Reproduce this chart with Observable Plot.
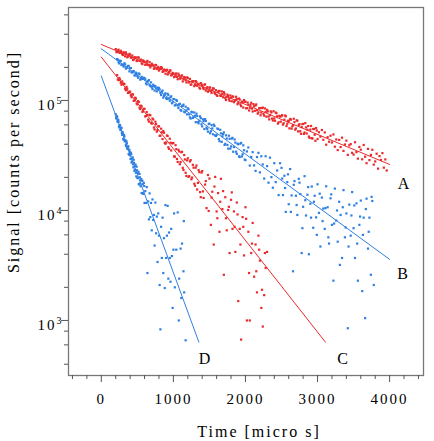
<!DOCTYPE html>
<html>
<head>
<meta charset="utf-8">
<script src="https://cdn.jsdelivr.net/npm/d3@7"></script>
<script src="https://cdn.jsdelivr.net/npm/@observablehq/plot@0.6"></script>
<style>
  body { margin: 0; background: #fff; }
</style>
</head>
<body>
<div id="chart"></div>
<script>
// Decay curves A–D: measured signal (counts per second) against time (micro s)

// Curve A (red)
const timeA = [200,220,240,260,280,300,320,340,360,380,400,420,440,460,480,500,520,540,560,580,
  600,620,640,660,680,700,720,740,760,780,800,820,840,860,880,900,920,940,960,980,
  1000,1020,1040,1060,1080,1100,1120,1140,1160,1180,1200,1220,1240,1260,1280,1300,1320,1340,1360,1380,
  1400,1420,1440,1460,1480,1500,1520,1540,1560,1580,1600,1620,1640,1660,1680,1700,1720,1740,1760,1780,
  1800,1820,1840,1860,1880,1900,1920,1940,1960,1980,2000,2020,2040,2060,2080,2100,2120,2140,2160,2180,
  2200,2220,2240,2260,2280,2300,2320,2340,2360,2380,2400,2420,2440,2460,2480,2500,2520,2540,2560,2580,
  2600,2620,2640,2660,2680,2700,2720,2740,2760,2780,2800,2820,2840,2860,2880,2900,2920,2940,2960,2980,
  3000,3020,3040,3060,3080,3100,3120,3140,3160,3180,3200,3220,3240,3260,3280,3300,3320,3340,3360,3380,
  3400,3420,3440,3460,3480,3500,3520,3540,3560,3580,3600,3620,3640,3660,3680,3700,3720,3740,3760,3780,
  3800,3820,3840,3860,3880,3900,3920,3940,3960,
  210,230,250,270,290,310,330,350,370,390,410,430,450,470,490,510,530,550,570,590,
  610,630,650,670,690,710,730,750,770,790,810,830,850,870,890,910,930,950,970,990,
  1010,1030,1050,1070,1090,1110,1130,1150,1170,1190,1210,1230,1250,1270,1290,1310,1330,1350,1370,1390,
  1410,1430,1450,1470,1490,1510,1530,1550,1570,1590,1610,1630,1650,1670,1690,1710,1730,1750,1770,1790,
  1810,1830,1850,1870,1890,1910,1930,1950,1970,1990,2010,2030,2050,2070,2090,2110,2130,2150,2170,2190,
  2210,2230,2250,2270,2290,2310,2330,2350,2370,2390,2410,2430,2450,2470,2490,2510,2530,2550,2570,2590,
  2610,2630,2650,2670,2690,2710,2730,2750,2770,2790,2810,2830,2850,2870,2890,2910,2930,2950,2970,2990];
const signalA = [2.93e5,2.76e5,2.89e5,2.71e5,2.76e5, 2.59e5,2.70e5,2.74e5,2.47e5,2.57e5,
  2.61e5,2.46e5,2.33e5,2.47e5,2.46e5, 2.31e5,2.45e5,2.30e5,2.18e5,2.31e5,
  2.24e5,2.12e5,2.29e5,2.09e5,2.00e5, 2.16e5,2.08e5,1.97e5,2.10e5,1.96e5,
  1.87e5,1.97e5,1.98e5,1.84e5,1.88e5, 1.89e5,1.72e5,1.81e5,1.87e5,1.71e5,
  1.76e5,1.65e5,1.76e5,1.56e5,1.69e5, 1.59e5,1.69e5,1.56e5,1.61e5,1.46e5,
  1.60e5,1.47e5,1.39e5,1.49e5,1.50e5, 1.38e5,1.47e5,1.41e5,1.31e5,1.44e5,
  1.37e5,1.27e5,1.40e5,1.28e5,1.20e5, 1.31e5,1.22e5,1.24e5,1.28e5,1.15e5,
  1.12e5,1.20e5,1.22e5,1.10e5,1.15e5, 1.19e5,1.05e5,1.08e5,1.10e5,9.92e4,
  1.06e5,1.09e5,9.65e4,1.01e5,1.03e5, 9.50e4,1.02e5,8.88e4,9.61e4,1.01e5,
  9.74e4,8.53e4,9.14e4,8.58e4,9.53e4, 7.94e4,8.86e4,9.00e4,8.15e4,7.79e4,
  8.52e4,7.77e4,8.62e4,7.27e4,7.87e4, 8.22e4,7.14e4,7.34e4,7.77e4,6.58e4,
  6.86e4,7.77e4,7.18e4,6.33e4,7.14e4, 7.19e4,6.04e4,6.69e4,7.18e4,6.14e4,
  6.50e4,6.79e4,5.54e4,5.96e4,6.36e4, 5.56e4,6.55e4,6.00e4,5.25e4,5.74e4,
  6.12e4,5.11e4,5.69e4,5.41e4,4.70e4, 5.43e4,4.54e4,5.50e4,4.88e4,5.61e4,
  4.46e4,5.14e4,4.69e4,5.39e4,4.39e4, 5.12e4,3.96e4,4.63e4,4.22e4,4.78e4,
  4.15e4,4.91e4,3.80e4,4.42e4,3.54e4, 4.38e4,3.77e4,4.59e4,3.48e4,3.98e4,
  4.31e4,3.20e4,3.91e4,4.01e4,3.34e4, 3.22e4,4.17e4,3.39e4,2.96e4,3.78e4,
  3.57e4,2.92e4,3.94e4,3.08e4,2.69e4, 3.63e4,2.87e4,3.20e4,3.56e4,2.61e4,
  2.79e4,3.28e4,2.40e4,3.12e4,2.88e4, 3.32e4,2.45e4,2.91e4,2.31e4,
  2.75e5,2.85e5,2.73e5,2.83e5,2.64e5, 2.74e5,2.52e5,2.64e5,2.51e5,2.65e5,
  2.45e5,2.56e5,2.36e5,2.43e5,2.28e5, 2.46e5,2.29e5,2.35e5,2.14e5,2.27e5,
  2.11e5,2.24e5,2.10e5,2.23e5,2.07e5, 2.11e5,1.94e5,2.10e5,1.93e5,2.02e5,
  1.92e5,2.01e5,1.82e5,1.91e5,1.75e5, 1.90e5,1.76e5,1.88e5,1.69e5,1.78e5,
  1.63e5,1.74e5,1.64e5,1.75e5,1.58e5, 1.66e5,1.49e5,1.63e5,1.53e5,1.62e5,
  1.46e5,1.57e5,1.40e5,1.50e5,1.35e5, 1.50e5,1.36e5,1.41e5,1.28e5,1.40e5,
  1.31e5,1.39e5,1.23e5,1.32e5,1.23e5, 1.31e5,1.17e5,1.29e5,1.18e5,1.24e5,
  1.10e5,1.21e5,1.11e5,1.21e5,1.07e5, 1.15e5,1.01e5,1.13e5,1.03e5,1.11e5,
  9.84e4,1.08e5,9.90e4,1.08e5,9.25e4, 1.04e5,9.22e4,9.77e4,8.62e4,9.71e4,
  8.49e4,9.57e4,8.11e4,9.14e4,8.43e4, 9.27e4,8.05e4,9.20e4,7.59e4,8.48e4,
  7.33e4,8.52e4,7.54e4,8.46e4,7.13e4, 7.94e4,6.73e4,7.97e4,6.85e4,7.98e4,
  6.54e4,7.65e4,6.16e4,7.25e4,6.42e4, 7.35e4,6.20e4,7.29e4,5.85e4,6.54e4,
  5.58e4,6.69e4,5.81e4,6.82e4,5.43e4, 6.59e4,5.23e4,6.08e4,4.98e4,6.10e4,
  4.97e4,6.22e4,5.01e4,5.85e4,4.57e4, 5.86e4,4.51e4,5.51e4,4.30e4,5.33e4];

// Curve B (blue)
const timeB = [220,240,260,280,300,320,340,360,380,400,420,440,460,480,500,520,540,560,580,
  600,620,640,660,680,700,720,740,760,780,800,820,840,860,880,900,920,940,960,980,
  1000,1020,1040,1060,1080,1100,1120,1140,1160,1180,1200,1220,1240,1260,1280,1300,1320,1340,1360,1380,
  1400,1420,1440,1460,1480,1500,1520,1540,1560,1580,1600,1620,1640,1660,1680,1700,1720,1740,1760,1780,
  1800,1820,1840,1860,1880,1900,1920,1940,1960,1980,2000,2020,2040,2060,2080,2100,2120,2140,2160,2180,
  2200,2220,2240,2260,2280,2300,2320,2340,2360,2380,2400,2420,2440,2460,2480,
  2500,2510,2520,2540,2550,2560,2580,2590,2600,2620,2630,2640,2660,2670,2680,2700,2710,2720,2740,2750,
  2760,2780,2790,2800,2820,2830,2840,2860,2870,2880,2900,2910,2920,2940,2950,2960,2980,2990,3000,3020,
  3030,3040,3060,3070,3080,3100,3110,3120,3140,3150,3160,3180,3190,3200,3220,3230,3240,3260,3270,3280,
  3300,3310,3320,3340,3350,3360,3380,3390,3400,3420,3430,3440,3460,3470,3480,3500,3510,3520,3540,3550,
  3560,3580,3590,3600,3620,3630,3640,3660,3670,3680,3700,3710,3720,3740,3750,3760,3780,
  230,250,270,290,310,330,350,370,390,410,430,450,470,490,510,530,550,570,590,
  610,630,650,670,690,710,730,750,770,790,810,830,850,870,890,910,930,950,970,990,
  1010,1030,1050,1070,1090,1110,1130,1150,1170,1190,1210,1230,1250,1270,1290,1310,1330,1350,1370,1390,
  1410,1430,1450,1470,1490,1510,1530,1550,1570,1590,1610,1630,1650,1670,1690,1710,1730,1750,1770,1790,
  1810,1830,1850,1870,1890,1910,1930,1950,1970,1990];
const signalB = [2.38e5,2.22e5,2.30e5,2.10e5, 2.10e5,2.18e5,1.95e5,2.02e5,2.06e5,
  1.97e5,1.80e5,1.84e5,1.69e5,1.79e5, 1.67e5,1.76e5,1.55e5,1.64e5,1.57e5,
  1.60e5,1.43e5,1.49e5,1.53e5,1.35e5, 1.32e5,1.39e5,1.23e5,1.29e5,1.31e5,
  1.30e5,1.17e5,1.20e5,1.06e5,1.14e5, 1.05e5,1.15e5,1.04e5,1.07e5,9.43e4,
  1.03e5,9.01e4,1.01e5,8.99e4,9.24e4, 8.17e4,8.93e4,9.16e4,7.81e4,8.12e4,
  8.50e4,7.47e4,6.85e4,7.81e4,7.07e4, 7.26e4,7.59e4,6.35e4,6.54e4,6.91e4,
  5.81e4,6.48e4,6.76e4,5.67e4,5.20e4, 6.16e4,5.25e4,5.57e4,6.03e4,4.81e4,
  4.86e4,5.50e4,4.26e4,5.02e4,4.73e4, 5.12e4,4.03e4,4.51e4,3.65e4,4.48e4,
  3.82e4,4.57e4,3.77e4,4.14e4,3.27e4, 4.00e4,3.06e4,4.11e4,3.24e4,3.53e4,
  2.87e4,3.44e4,3.74e4,2.56e4,3.07e4, 3.39e4,2.57e4,2.29e4,3.06e4,3.34e4,
  2.22e4,3.11e4,2.62e4,1.95e4,3.11e4, 2.53e4,1.79e4,3.02e4,2.01e4,1.61e4,
  2.69e4,1.81e4,2.31e4,1.38e4,2.69e4,
  2.44e4,1.95e4,1.38e4,2.07e4,1.60e4,9.7e3,1.81e4,2.13e4,1.14e4,2.38e4,9.7e3,1.37e4,2.8e3,1.71e4,1.85e4,1.36e4,1.12e4,9.1e3,1.94e4,1.79e4,
  1.41e4,4.1e3,6.9e3,1.08e4,2.05e4,1.24e4,9.0e3,1.39e4,1.63e4,4.0e3,1.15e4,8.6e3,1.65e4,6.96e3,1.20e4,1.36e4,8.66e3,6.0e3,1.73e4,9.5e3,
  1.42e4,4.7e3,1.31e4,8.0e3,1.04e4,6.8e3,1.05e4,1.66e4,1.07e4,5.7e3,5.0e3,1.29e4,1.40e4,7.4e3,2.3e3,7.6e3,1.58e4,8.1e3,1.00e4,5.2e3,
  1.20e4,3.2e3,9.1e3,3.7e3,1.07e4,1.53e4,5.7e3,7.0e3,9.4e3,850,4.7e3,1.13e4,5.9e3,9.0e3,1.47e4,6.9e3,1.11e4,3.7e3,1.16e4,5.0e3,
  2.3e3,7.4e3,8.8e3,1.23e4,1.85e3,6.0e3,8.6e3,1.05e3,1.03e4,1.28e4,4.5e3,6.4e3,8.6e3,2.6e3,1.33e4,1.22e4,2.1e3,
  2.34e5,2.17e5,2.28e5,2.12e5, 2.03e5,2.13e5,1.97e5,2.06e5,1.84e5,
  1.97e5,1.80e5,1.85e5,1.69e5,1.75e5, 1.61e5,1.73e5,1.56e5,1.61e5,1.60e5,
  1.55e5,1.40e5,1.50e5,1.38e5,1.46e5, 1.27e5,1.36e5,1.35e5,1.21e5,1.26e5,
  1.26e5,1.12e5,1.23e5,1.10e5,1.16e5, 1.03e5,1.12e5,9.94e4,1.09e5,9.63e4,
  1.03e5,9.10e4,9.92e4,8.53e4,9.32e4, 8.08e4,8.92e4,7.89e4,8.78e4,7.48e4,
  8.33e4,7.01e4,7.89e4,6.93e4,7.78e4, 6.35e4,7.23e4,6.20e4,7.18e4,6.07e4,
  6.74e4,5.50e4,6.51e4,5.49e4,6.11e4, 5.03e4,5.96e4,4.92e4,5.86e4,4.76e4,
  5.56e4,4.46e4,5.41e4,4.21e4,4.95e4, 3.94e4,4.82e4,3.94e4,4.78e4,3.65e4,
  4.50e4,3.42e4,4.42e4,3.42e4,4.05e4, 3.10e4,4.05e4,3.10e4,3.91e4,2.90e4];

// Curve C (red)
const timeC = [220,240,260,280,300,320,340,360,380,400,420,440,460,480,500,520,540,560,580,
  600,620,640,660,680,700,720,740,760,780,800,820,840,860,880,900,920,940,960,980,
  1000,1020,1040,1060,1080,1100,1120,1140,1160,1180,1200,1220,1240,1260,1280,1300,1320,1340,1360,1380,
  1400,1410,1420,1440,1450,1460,1480,1490,1500,1520,1530,1540,1560,1570,1580,1600,1610,1620,1640,1650,
  1660,1680,1690,1700,1720,1730,1740,1760,1770,1780,1800,1810,1820,1840,1850,1860,1880,1890,1900,1920,
  1930,1940,1960,1970,1980,2000,2010,2020,2040,2050,2060,2080,2090,2100,2120,2140,2150,2160,2180,2190,
  2200,2220,2230,2240,2260,2270,2280,2300,
  230,250,270,290,310,330,350,370,390,410,430,450,470,490,510,530,550,570,590,
  610,630,650,670,690,710,730,750,770,790,810,830,850,870,890,910,930,950,970,990,
  1010,1030,1050,1070,1090,1110,1130,1150,1170,1190,1210,1230,1250,1270,1290,1310,1330,1350,1370,1390];
const signalC = [1.70e5,1.53e5,1.55e5,1.39e5, 1.42e5,1.41e5,1.24e5,1.28e5,1.18e5,
  1.20e5,1.07e5,1.13e5,1.00e5,1.04e5, 9.21e4,9.68e4,8.35e4,8.80e4,7.98e4,
  8.39e4,7.24e4,7.41e4,6.43e4,7.33e4, 6.15e4,6.72e4,5.45e4,6.11e4,5.38e4,
  5.82e4,4.78e4,5.14e4,5.28e4,4.12e4, 4.15e4,4.75e4,3.63e4,4.13e4,4.09e4,
  4.11e4,3.08e4,3.61e4,2.76e4,3.44e4, 2.76e4,3.41e4,2.33e4,2.91e4,2.06e4,
  2.98e4,2.05e4,2.87e4,1.99e4,2.45e4, 1.68e4,2.56e4,1.78e4,2.23e4,1.32e4,
  2.28e4,1.49e4,1.30e4,1.72e4,1.85e4,1.05e4,2.10e4,9.9e3,1.95e4,7.4e3,1.31e4,1.48e4,4.9e3,1.65e4,2.02e4,9.8e3,8.5e3,1.44e4,6.4e3,1.20e4,
  1.94e4,1.03e4,1.50e4,2.6e3,1.32e4,8.5e3,6.6e3,1.01e4,1.08e4,4.1e3,1.25e4,1.46e4,6.8e3,9.8e3,7.1e3,4.2e3,1.18e4,9.2e3,1.5e3,6.8e3,
  4.9e3,670,8.7e3,7.1e3,3.9e3,1.07e4,8.4e3,1.0e3,6.4e3,2.7e3,1.0e3,4.1e3,5.0e3,7.7e3,2.5e3,4.9e3,2.8e3,1.8e3,5.9e3,4.4e3,
  3.5e3,1.3e3,1.9e3,880,1.7e3,4.1e3,3.0e3,4.2e3,
  1.55e5,1.60e5,1.45e5,1.49e5, 1.42e5,1.28e5,1.33e5,1.17e5,1.20e5,
  1.11e5,1.14e5,9.93e4,1.06e5,9.38e4, 9.87e4,8.60e4,8.97e4,7.88e4,8.38e4,
  7.15e4,7.85e4,6.70e4,7.40e4,6.26e4, 6.85e4,5.68e4,6.41e4,5.20e4,5.82e4,
  4.77e4,5.54e4,4.46e4,5.09e4,4.04e4, 4.80e4,3.75e4,4.49e4,3.51e4,4.08e4,
  3.10e4,3.92e4,2.94e4,3.56e4,2.63e4, 3.38e4,2.44e4,3.19e4,2.20e4,2.85e4,
  2.02e4,2.79e4,1.92e4,2.60e4,1.75e4, 2.45e4,1.55e4,2.33e4,1.47e4,2.21e4];

// Curve D (blue)
const timeD = [200,210,220,230,240,250,260,270,280,290,300,310,320,330,340,350,360,370,380,390,
  400,410,420,430,440,450,460,470,480,490,500,510,520,530,540,550,560,570,580,590,
  600,610,620,630,640,650,660,670,680,690,700,710,720,730,740,750,760,770,780,790,
  800,810,820,830,840,850,860,870,880,890,900,910,920,930,940,950,960,970,980,990,
  1000,1010,1020,1040,1060,1075,1080,1100,1110,1120,1140,1145,1150,1170,
  205,215,225,235,245,255,265,275,285,295,305,315,325,335,345,355,365,375,385,395,
  405,415,425,435,445,455,465,475,485,495,505,515,525,535,545,555,565,575,585,595];
const signalD = [7.50e4,6.84e4,7.11e4,6.37e4,6.42e4,5.68e4,5.97e4,5.45e4,5.61e4,4.87e4,
  4.97e4,4.39e4,4.70e4,4.34e4,3.92e4,4.24e4,3.69e4,3.76e4,3.26e4,3.56e4,
  3.17e4,3.35e4,2.73e4,2.96e4,2.63e4,2.89e4,2.29e4,2.54e4,2.20e4,2.50e4,
  1.99e4,2.17e4,1.73e4,2.15e4,1.76e4,1.88e4,1.44e4,1.86e4,1.42e4,1.78e4,
  1.17e4,1.50e4,1.17e4,1.63e4,2.7e3,1.21e4,8.3e3,1.43e4,8.7e3,1.17e4,
  6.6e3,1.26e4,8.2e3,9.1e3,4.8e3,1.18e4,6.2e3,8.8e3,3.4e3,9.4e3,
  5.9e3,2.1e3,830,7.1e3,3.7e3,8.6e3,2.7e3,5.6e3,1.97e3,1.12e4,
  3.7e3,5.9e3,1.1e4,2.4e3,6.3e3,3.7e3,2.25e3,6.8e3,3.85e3,1.3e3,
  4.4e3,9.4e3,2.0e3,4.4e3,9.6e3,1.0e3,2.4e3,4.5e3,1.6e3,5.0e3,2.8e3,8.0e3,1.8e3,660,
  6.99e4,7.19e4,6.50e4,6.69e4,5.80e4,5.98e4,5.40e4,5.67e4,5.08e4,5.17e4,
  4.48e4,4.85e4,4.26e4,4.34e4,3.85e4,4.07e4,3.61e4,3.83e4,3.22e4,3.39e4,
  2.94e4,3.25e4,2.79e4,3.04e4,2.47e4,2.71e4,2.35e4,2.61e4,2.04e4,2.32e4,
  1.97e4,2.25e4,1.74e4,2.00e4,1.66e4,1.93e4,1.44e4,1.73e4,1.43e4,1.67e4];

// Single-exponential fits, straight on the log axis: [time, signal] at both ends
const fitA = [[0, 3.23e5], [4000, 2.62e4]];
const fitB = [[0, 2.95e5], [4000, 3.59e3]];
const fitC = [[0, 2.48e5], [3110, 635]];
const fitD = [[0, 1.67e5], [1354, 635]];

// Curve names and where their letters sit (time, signal)
const curveNames = ["A", "B", "C", "D"];
const labelTime = [4208, 4195, 3362, 1447];
const labelSignal = [1.76e4, 2.67e3, 452, 452];

// Axis ticks
const xTicks = [0, 1000, 2000, 3000, 4000];
const xMinorTicks = [-400, -200, 200, 400, 600, 800, 1200, 1400, 1600, 1800, 2200, 2400, 2600, 2800,
  3200, 3400, 3600, 3800, 4200, 4400];
const yTicks = [1e3, 1e4, 1e5];
const yMinorTicks = [400, 600, 800, 2000, 4000, 6000, 8000, 20000, 40000, 60000, 80000,
  200000, 400000, 600000];

const xTitle = "Time [micro s]";
const yTitle = "Signal [counts per second]";

const RED = "#ea2a2c";
const BLUE = "#2f80e2";
const curveColor = {A: RED, B: BLUE, C: RED, D: BLUE};

const series = {A: [timeA, signalA], B: [timeB, signalB], C: [timeC, signalC], D: [timeD, signalD]};
const points = [];
for (const name of curveNames) {
  const [ts, ss] = series[name];
  ts.forEach((t, i) => points.push({curve: name, t, s: ss[i]}));
}
const fits = {A: fitA, B: fitB, C: fitC, D: fitD};
const fitRows = [];
for (const name of curveNames) {
  for (const [t, s] of fits[name]) fitRows.push({curve: name, t, s});
}
const labels = curveNames.map((name, i) => ({name, t: labelTime[i], s: labelSignal[i]}));

const chart = Plot.plot({
  width: 434,
  height: 441,
  marginTop: 7,
  marginRight: 11,
  marginBottom: 66,
  marginLeft: 68,
  style: {
    fontFamily: '"Liberation Serif", "Times New Roman", serif',
    fontSize: "15px",
    letterSpacing: "2px",
    color: "#000",
    background: "#fff"
  },
  x: {domain: [-455, 4470], label: null},
  y: {type: "log", domain: [316, 7.0e5], label: null},
  marks: [
    Plot.dot(points, {x: "t", y: "s", fill: d => curveColor[d.curve], r: 1.25, symbol: "square"}),
    Plot.line(fitRows, {x: "t", y: "s", z: "curve", stroke: d => curveColor[d.curve], strokeWidth: 1}),
    Plot.frame({stroke: "#777", strokeWidth: 1.3}),
    Plot.axisX(xMinorTicks, {tickSize: 4, tickFormat: () => "", stroke: "#555", label: null}),
    Plot.axisX(xTicks, {tickSize: 7, tickPadding: 11, tickFormat: d => String(d), stroke: "#555", label: null}),
    Plot.axisY(yMinorTicks, {tickSize: 4, tickFormat: () => "", stroke: "#555", label: null}),
    Plot.axisY(yTicks, {tickSize: 7, tickFormat: () => "", stroke: "#555", label: null}),
    // "10" with a raised exponent for each decade
    Plot.text(yTicks, {y: d => d, text: () => "10", frameAnchor: "left", textAnchor: "end",
      lineAnchor: "bottom", dx: -12, dy: 10, fontSize: 15}),
    Plot.text(yTicks, {y: d => d, text: d => String(Math.round(Math.log10(d))), frameAnchor: "left",
      textAnchor: "start", lineAnchor: "bottom", dx: -12, dy: 3.5, fontSize: 10}),
    Plot.text(labels, {x: "t", y: "s", text: "name", fontSize: 16, lineAnchor: "middle"}),
    Plot.text([xTitle], {text: d => d, frameAnchor: "bottom", textAnchor: "middle", lineAnchor: "bottom",
      dx: 13, dy: 61, fontSize: 16}),
    Plot.text([yTitle], {text: d => d, frameAnchor: "left", textAnchor: "middle", rotate: -90,
      lineAnchor: "bottom", dx: -50, dy: -29.5, fontSize: 16})
  ]
});
document.getElementById("chart").appendChild(chart);
</script>
</body>
</html>
